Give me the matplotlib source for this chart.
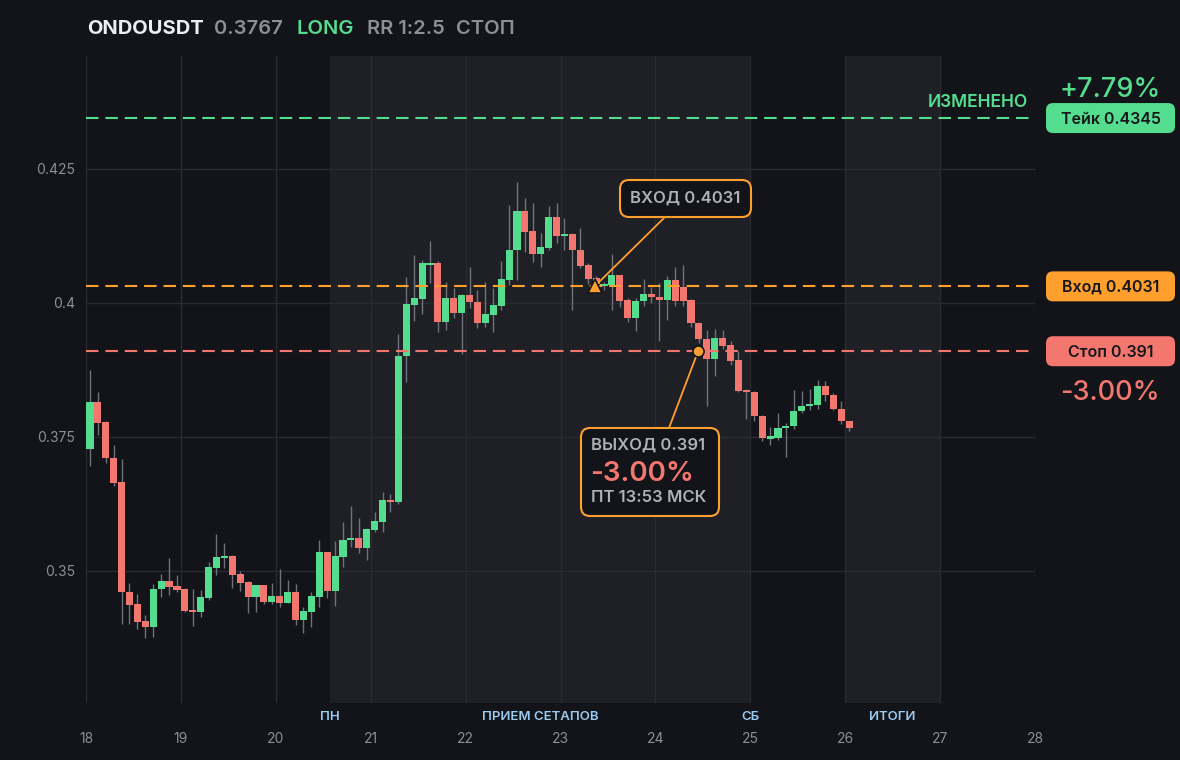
import matplotlib
matplotlib.use('Agg')
import matplotlib.pyplot as plt
from matplotlib.patches import FancyBboxPatch

plt.rcParams['font.family'] = ['Inter', 'DejaVu Sans']

# 2-часовые свечи ONDOUSDT, начиная с 18 числа
opens = [0.3728, 0.3815, 0.3778, 0.3711, 0.3666, 0.3461, 0.3438, 0.3406, 0.3396, 0.3466,
         0.3481, 0.3472, 0.3466, 0.3427, 0.3424, 0.3450, 0.3506, 0.3524, 0.3528, 0.3494,
         0.3479, 0.3452, 0.3473, 0.3442, 0.3453, 0.3441, 0.3461, 0.3409, 0.3424, 0.3452,
         0.3535, 0.3463, 0.3527, 0.3557, 0.3562, 0.3543, 0.3577, 0.3591, 0.3632, 0.3629,
         0.3901, 0.3997, 0.4008, 0.4071, 0.4074, 0.3965, 0.4009, 0.3982, 0.4014, 0.4002,
         0.3963, 0.3978, 0.3994, 0.4043, 0.4098, 0.4172, 0.4135, 0.4091, 0.4103, 0.4161,
         0.4125, 0.4129, 0.4099, 0.4070, 0.4047, 0.4032, 0.4034, 0.4052, 0.4006, 0.3972,
         0.4004, 0.4017, 0.4011, 0.4006, 0.4043, 0.4030, 0.4006, 0.3962, 0.3933, 0.3896,
         0.3935, 0.3921, 0.3894, 0.3838, 0.3834, 0.3790, 0.3747, 0.3748, 0.3766, 0.3770,
         0.3798, 0.3807, 0.3810, 0.3846, 0.3828, 0.3802, 0.3779]
highs = [0.3875, 0.3833, 0.3780, 0.3735, 0.3708, 0.3477, 0.3457, 0.3417, 0.3476, 0.3494,
         0.3524, 0.3493, 0.3468, 0.3467, 0.3465, 0.3517, 0.3569, 0.3552, 0.3530, 0.3500,
         0.3482, 0.3474, 0.3474, 0.3478, 0.3504, 0.3483, 0.3476, 0.3433, 0.3461, 0.3558,
         0.3536, 0.3556, 0.3591, 0.3621, 0.3598, 0.3580, 0.3610, 0.3647, 0.3644, 0.3943,
         0.4048, 0.4089, 0.4080, 0.4115, 0.4079, 0.4040, 0.4028, 0.4017, 0.4067, 0.4024,
         0.4039, 0.4028, 0.4079, 0.4183, 0.4226, 0.4196, 0.4187, 0.4131, 0.4181, 0.4186,
         0.4159, 0.4130, 0.4140, 0.4075, 0.4050, 0.4040, 0.4091, 0.4053, 0.4010, 0.4010,
         0.4044, 0.4030, 0.4037, 0.4050, 0.4068, 0.4070, 0.4008, 0.3965, 0.3950, 0.3952,
         0.3950, 0.3930, 0.3910, 0.3840, 0.3835, 0.3791, 0.3769, 0.3794, 0.3776, 0.3838,
         0.3836, 0.3839, 0.3856, 0.3855, 0.3832, 0.3818, 0.3780]
lows = [0.3696, 0.3753, 0.3701, 0.3659, 0.3402, 0.3402, 0.3392, 0.3375, 0.3377, 0.3452,
        0.3456, 0.3461, 0.3424, 0.3397, 0.3414, 0.3445, 0.3493, 0.3506, 0.3468, 0.3463,
        0.3421, 0.3424, 0.3438, 0.3438, 0.3433, 0.3441, 0.3400, 0.3385, 0.3396, 0.3433,
        0.3450, 0.3435, 0.3508, 0.3544, 0.3534, 0.3521, 0.3572, 0.3572, 0.3610, 0.3625,
        0.3853, 0.3967, 0.3979, 0.4037, 0.3946, 0.3950, 0.3972, 0.3904, 0.3991, 0.3953,
        0.3956, 0.3945, 0.3987, 0.4033, 0.4042, 0.4095, 0.4076, 0.4068, 0.4099, 0.4112,
        0.4098, 0.3986, 0.4065, 0.4035, 0.4020, 0.4025, 0.3986, 0.3993, 0.3965, 0.3947,
        0.3995, 0.4000, 0.3929, 0.3968, 0.3995, 0.3995, 0.3955, 0.3925, 0.3807, 0.3863,
        0.3915, 0.3885, 0.3833, 0.3783, 0.3779, 0.3742, 0.3735, 0.3745, 0.3712, 0.3765,
        0.3795, 0.3800, 0.3802, 0.3818, 0.3800, 0.3775, 0.3762]
closes = [0.3815, 0.3777, 0.3710, 0.3665, 0.3460, 0.3437, 0.3405, 0.3396, 0.3466, 0.3481,
          0.3471, 0.3465, 0.3426, 0.3424, 0.3451, 0.3507, 0.3526, 0.3528, 0.3493, 0.3478,
          0.3452, 0.3473, 0.3442, 0.3453, 0.3441, 0.3461, 0.3409, 0.3426, 0.3453, 0.3535,
          0.3463, 0.3528, 0.3558, 0.3562, 0.3543, 0.3579, 0.3594, 0.3632, 0.3629, 0.3902,
          0.3998, 0.4009, 0.4074, 0.4074, 0.3965, 0.4009, 0.3982, 0.4014, 0.4001, 0.3963,
          0.3979, 0.3997, 0.4045, 0.4099, 0.4172, 0.4132, 0.4091, 0.4105, 0.4161, 0.4125,
          0.4129, 0.4098, 0.4069, 0.4045, 0.4035, 0.4035, 0.4052, 0.4004, 0.3972, 0.4004,
          0.4017, 0.4011, 0.4006, 0.4043, 0.4004, 0.4004, 0.3962, 0.3932, 0.3896, 0.3935,
          0.3920, 0.3892, 0.3836, 0.3833, 0.3790, 0.3748, 0.3751, 0.3767, 0.3771, 0.3798,
          0.3807, 0.3812, 0.3846, 0.3828, 0.3802, 0.3779, 0.3767]
start_day = 18
step = 1 / 12  # 2 часа

take_price = 0.4345
entry_price = 0.4031
stop_price = 0.391
entry_time = 23.36
exit_time = 24.45

day_ticks = list(range(18, 29))
y_ticks = [0.35, 0.375, 0.4, 0.425]
y_labels = ['0.35', '0.375', '0.4', '0.425']
shades = [(20.57, 25.0), (26.0, 27.0)]
sessions = [('ПН', 20.57), ('ПРИЕМ СЕТАПОВ', 22.785), ('СБ', 25.0), ('ИТОГИ', 26.5)]

BG = '#131419'
SHADE = '#1f2025'
GRID = '#2a2b31'
GREEN = '#55dd8f'
RED = '#f4776f'
ORANGE = '#ff9f2e'
GRAY = '#8c8f97'
LIGHT = '#aeb1b8'

fig = plt.figure(figsize=(11.8, 7.6), dpi=100, facecolor=BG)
ax = fig.add_axes([86 / 1180, 57 / 760, 949 / 1180, 647 / 760])
ax.set_facecolor(BG)
ax.set_xlim(18, 28)
ax.set_ylim(0.32537, 0.44608)
for s in ax.spines.values():
    s.set_visible(False)

for a, b in shades:
    ax.axvspan(a, b, color=SHADE, lw=0, zorder=0)

ax.set_xticks(day_ticks)
ax.set_xticklabels([str(d) for d in day_ticks])
ax.set_yticks(y_ticks)
ax.set_yticklabels(y_labels)
ax.tick_params(axis='x', length=0, pad=21, colors=GRAY, labelsize=10)
ax.tick_params(axis='y', length=0, pad=8, colors=GRAY, labelsize=10)
ax.grid(True, color=GRID, lw=1, zorder=0.5)
ax.set_axisbelow(True)

# свечи
xs = [start_day + (i + 0.5) * step for i in range(len(opens))]
cols = [GREEN if c >= o else RED for o, c in zip(opens, closes)]
ax.vlines(xs, lows, highs, color='#6f727a', lw=1, zorder=2)
bottoms = [min(o, c) for o, c in zip(opens, closes)]
heights = [max(abs(c - o), 0.00035) for o, c in zip(opens, closes)]
ax.bar(xs, heights, bottom=bottoms, width=step * 0.9, color=cols, lw=0, zorder=3)

# уровни
dash = (0, (6, 3.3))
ax.axhline(take_price, xmax=0.995, color=GREEN, lw=1.5, ls=dash, zorder=4)
ax.axhline(entry_price, xmax=0.995, color=ORANGE, lw=1.5, ls=dash, zorder=4)
ax.axhline(stop_price, xmax=0.995, color=RED, lw=1.5, ls=dash, zorder=4)
ax.annotate('ИЗМЕНЕНО', xy=(27.93, take_price), xytext=(0, 5), textcoords='offset points',
            ha='right', va='bottom', color=GREEN, fontsize=12.5, fontweight='semibold')

# точки входа и выхода
ax.annotate('', xy=(entry_time, entry_price), xytext=(665, 760 - 217), textcoords='figure pixels',
            arrowprops=dict(arrowstyle='-', color=ORANGE, lw=1.3, shrinkA=0, shrinkB=0), zorder=5)
ax.annotate('', xy=(exit_time, stop_price), xytext=(669, 760 - 428), textcoords='figure pixels',
            arrowprops=dict(arrowstyle='-', color=ORANGE, lw=1.3, shrinkA=0, shrinkB=0), zorder=5)
ax.plot(entry_time, entry_price, marker='^', ms=10, color=ORANGE, mec=BG, mew=1.2, zorder=6)
ax.plot(exit_time, stop_price, marker='o', ms=8, color=ORANGE, mec=BG, mew=1.2, zorder=6)

# подписи сессий
for label, x in sessions:
    ax.text(x, -14 / 647, label, transform=ax.get_xaxis_transform(), ha='center', va='center',
            color='#9ccbf2', fontsize=9.5, fontweight='semibold')


def box(x0, y_top, w, h, face, edge=None, r=0.07):
    p = FancyBboxPatch((x0 / 100, (760 - y_top - h) / 100), w / 100, h / 100,
                       boxstyle='round,pad=0,rounding_size=%s' % r,
                       transform=fig.dpi_scale_trans, facecolor=face,
                       edgecolor=edge if edge else 'none', lw=1.5 if edge else 0, zorder=10)
    fig.add_artist(p)


def py(price):
    return 760 - ax.transData.transform((18, price))[1]


def ftext(x, y, s, **kw):
    fig.text(x / 1180, (760 - y) / 760, s, **kw)


# бейджи справа
for price, label, face in [(take_price, 'Тейк 0.4345', GREEN),
                           (entry_price, 'Вход 0.4031', ORANGE),
                           (stop_price, 'Стоп 0.391', RED)]:
    yc = py(price)
    box(1046, yc - 15, 129, 30, face)
    ftext(1110.5, yc + 1, label, ha='center', va='center', color='#16171b',
          fontsize=11.5, fontweight='semibold', zorder=11)
ftext(1110, py(take_price) - 28, '+7.79%', ha='center', va='center', color=GREEN,
      fontsize=19.5, fontweight='medium')
ftext(1110, py(stop_price) + 42, '-3.00%', ha='center', va='center', color=RED,
      fontsize=19.5, fontweight='medium')

# карточки входа/выхода
box(620, 180, 131, 37, BG, ORANGE, r=0.09)
ftext(685.5, 198.5, 'ВХОД 0.4031', ha='center', va='center', color=LIGHT, fontsize=12,
      fontweight='semibold', zorder=11)
box(581, 428, 138, 88, BG, ORANGE, r=0.09)
ftext(591, 445, 'ВЫХОД 0.391', ha='left', va='center', color=LIGHT, fontsize=12,
      fontweight='semibold', zorder=11)
ftext(590, 474, '-3.00%', ha='left', va='center', color=RED, fontsize=20,
      fontweight='semibold', zorder=11)
ftext(591, 498, 'ПТ 13:53 МСК', ha='left', va='center', color=LIGHT, fontsize=12,
      fontweight='semibold', zorder=11)

# заголовок
ftext(87, 29, 'ONDOUSDT', ha='left', va='center', color='#eceef1', fontsize=14.5, fontweight='bold')
ftext(214, 29, '0.3767', ha='left', va='center', color=GRAY, fontsize=14.5, fontweight='semibold')
ftext(297, 29, 'LONG', ha='left', va='center', color=GREEN, fontsize=14.5, fontweight='semibold')
ftext(367, 29, 'RR 1:2.5', ha='left', va='center', color=GRAY, fontsize=14.5, fontweight='semibold')
ftext(456, 29, 'СТОП', ha='left', va='center', color=GRAY, fontsize=14.5, fontweight='semibold')

fig.savefig('out.png', dpi=100, facecolor=BG)
